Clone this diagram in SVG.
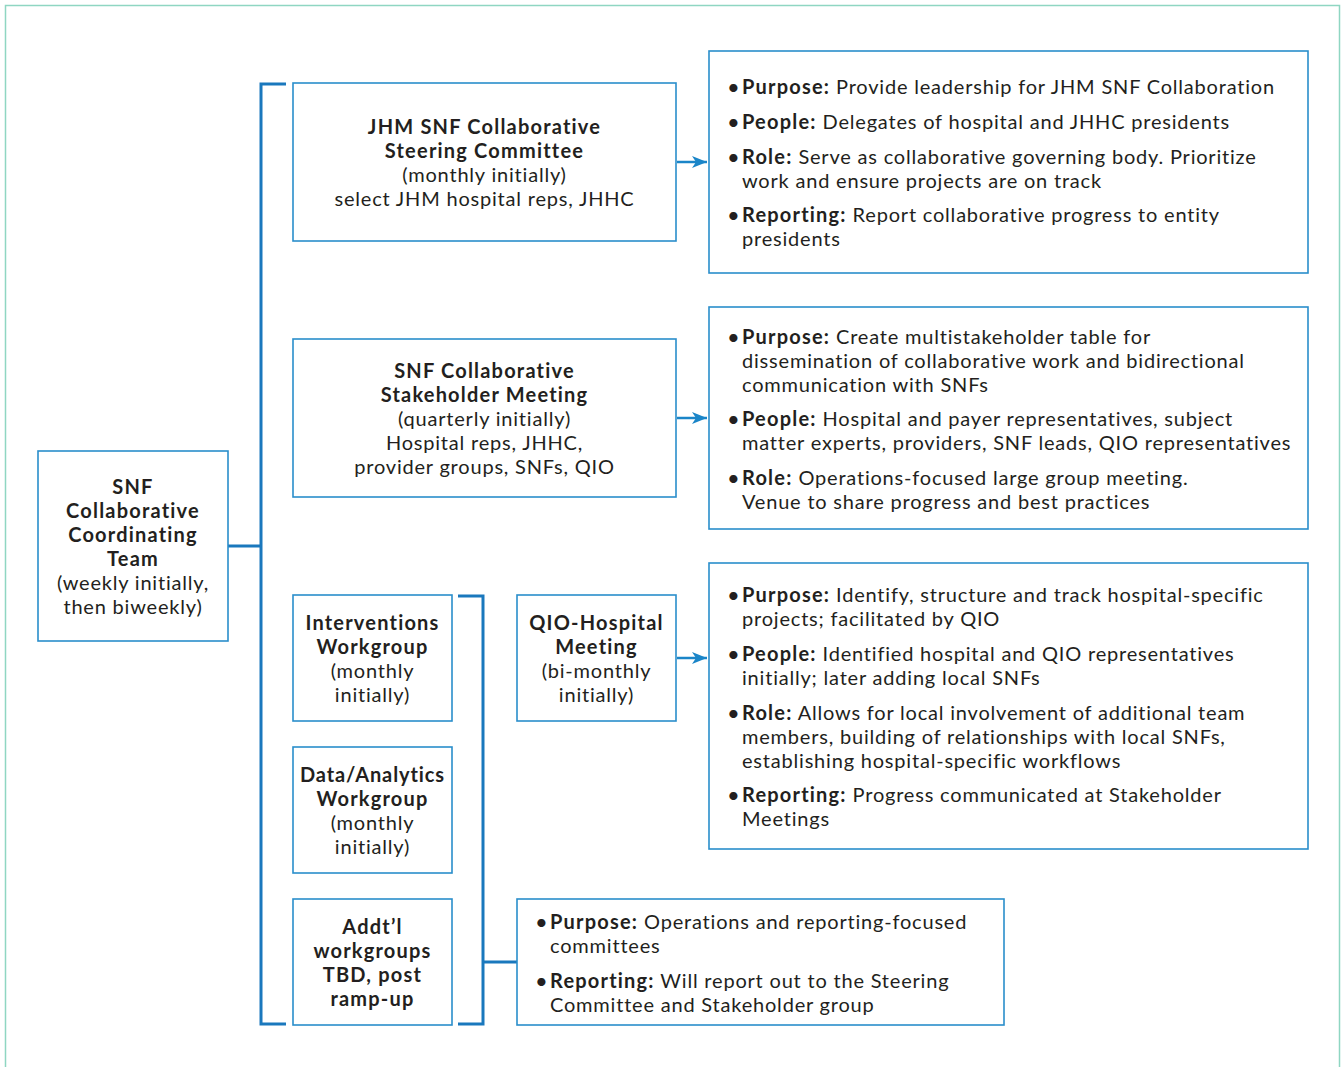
<svg xmlns="http://www.w3.org/2000/svg" width="1344" height="1067" viewBox="0 0 1344 1067">
<defs>
<marker id="ah" markerWidth="16" markerHeight="14" refX="15" refY="7" orient="auto" markerUnits="userSpaceOnUse">
<path d="M0,1 L15,7 L0,13 L4,7 Z" fill="#1a85c8"/>
</marker>
</defs>
<style>
.box{fill:#fff;stroke:#2a8ecb;stroke-width:1.6}
.br{fill:none;stroke:#1a78bd;stroke-width:3}
.ar{fill:none;stroke:#1a85c8;stroke-width:2.5}
text{font-family:Lato,"Liberation Sans",sans-serif;font-size:20px;fill:#231f20;letter-spacing:0.8px}
.c{text-anchor:middle}
.b{font-weight:bold;letter-spacing:1.2px}
.bu{font-size:22px}
</style>
<rect x="5.5" y="5.5" width="1334" height="1080" fill="none" stroke="#8fd6c2" stroke-width="1.5"/>
<g id="connectors">
<path class="br" d="M286,84 H261 V1024 H286"/>
<path class="br" d="M228,546 H261"/>
<path class="br" d="M458,596 H483 V1024 H458"/>
<path class="br" d="M483,962 H517"/>
<path class="ar" d="M677,162 H707" marker-end="url(#ah)"/>
<path class="ar" d="M677,418 H707" marker-end="url(#ah)"/>
<path class="ar" d="M677,658 H707" marker-end="url(#ah)"/>
</g>
<g id="coord">
<rect class="box" x="38" y="451" width="190" height="190"/>
<text class="c b" x="133" y="494">SNF</text>
<text class="c b" x="133" y="518">Collaborative</text>
<text class="c b" x="133" y="542">Coordinating</text>
<text class="c b" x="133" y="566">Team</text>
<text class="c" x="133" y="590">(weekly initially,</text>
<text class="c" x="133" y="614">then biweekly)</text>
</g>
<g id="steering">
<rect class="box" x="293" y="83" width="383" height="158"/>
<text class="c b" x="484.5" y="134">JHM SNF Collaborative</text>
<text class="c b" x="484.5" y="158">Steering Committee</text>
<text class="c" x="484.5" y="182">(monthly initially)</text>
<text class="c" x="484.5" y="206">select JHM hospital reps, JHHC</text>
</g>
<g id="stakeholder">
<rect class="box" x="293" y="339" width="383" height="158"/>
<text class="c b" x="484.5" y="378">SNF Collaborative</text>
<text class="c b" x="484.5" y="402">Stakeholder Meeting</text>
<text class="c" x="484.5" y="426">(quarterly initially)</text>
<text class="c" x="484.5" y="450">Hospital reps, JHHC,</text>
<text class="c" x="484.5" y="474">provider groups, SNFs, QIO</text>
</g>
<g id="interventions">
<rect class="box" x="293" y="595" width="159" height="126"/>
<text class="c b" x="372.5" y="630">Interventions</text>
<text class="c b" x="372.5" y="654">Workgroup</text>
<text class="c" x="372.5" y="678">(monthly</text>
<text class="c" x="372.5" y="702">initially)</text>
</g>
<g id="data">
<rect class="box" x="293" y="747" width="159" height="126"/>
<text class="c b" x="372.5" y="782" style="letter-spacing:0.9px">Data/Analytics</text>
<text class="c b" x="372.5" y="806">Workgroup</text>
<text class="c" x="372.5" y="830">(monthly</text>
<text class="c" x="372.5" y="854">initially)</text>
</g>
<g id="addtl">
<rect class="box" x="293" y="899" width="159" height="126"/>
<text class="c b" x="372.5" y="934">Addt’l</text>
<text class="c b" x="372.5" y="958">workgroups</text>
<text class="c b" x="372.5" y="982">TBD, post</text>
<text class="c b" x="372.5" y="1006">ramp-up</text>
</g>
<g id="qio">
<rect class="box" x="517" y="595" width="159" height="126"/>
<text class="c b" x="596.5" y="630">QIO-Hospital</text>
<text class="c b" x="596.5" y="654">Meeting</text>
<text class="c" x="596.5" y="678">(bi-monthly</text>
<text class="c" x="596.5" y="702">initially)</text>
</g>
<g id="detail-steering">
<rect class="box" x="709" y="51" width="599" height="222"/>
<text class="bu" x="727" y="95">•</text><text x="742" y="94"><tspan class="b">Purpose:</tspan> Provide leadership for JHM SNF Collaboration</text>
<text class="bu" x="727" y="130">•</text><text x="742" y="129"><tspan class="b">People:</tspan> Delegates of hospital and JHHC presidents</text>
<text class="bu" x="727" y="165">•</text><text x="742" y="164"><tspan class="b">Role:</tspan> Serve as collaborative governing body. Prioritize</text>
<text x="742" y="188">work and ensure projects are on track</text>
<text class="bu" x="727" y="223">•</text><text x="742" y="222"><tspan class="b">Reporting:</tspan> Report collaborative progress to entity</text>
<text x="742" y="246">presidents</text>
</g>
<g id="detail-stakeholder">
<rect class="box" x="709" y="307" width="599" height="222"/>
<text class="bu" x="727" y="345">•</text><text x="742" y="344"><tspan class="b">Purpose:</tspan> Create multistakeholder table for</text>
<text x="742" y="368">dissemination of collaborative work and bidirectional</text>
<text x="742" y="392">communication with SNFs</text>
<text class="bu" x="727" y="427">•</text><text x="742" y="426"><tspan class="b">People:</tspan> Hospital and payer representatives, subject</text>
<text x="742" y="450">matter experts, providers, SNF leads, QIO representatives</text>
<text class="bu" x="727" y="486">•</text><text x="742" y="485"><tspan class="b">Role:</tspan> Operations-focused large group meeting.</text>
<text x="742" y="509">Venue to share progress and best practices</text>
</g>
<g id="detail-qio">
<rect class="box" x="709" y="563" width="599" height="286"/>
<text class="bu" x="727" y="603">•</text><text x="742" y="602"><tspan class="b">Purpose:</tspan> Identify, structure and track hospital-specific</text>
<text x="742" y="626">projects; facilitated by QIO</text>
<text class="bu" x="727" y="662">•</text><text x="742" y="661"><tspan class="b">People:</tspan> Identified hospital and QIO representatives</text>
<text x="742" y="685">initially; later adding local SNFs</text>
<text class="bu" x="727" y="721">•</text><text x="742" y="720"><tspan class="b">Role:</tspan> Allows for local involvement of additional team</text>
<text x="742" y="744">members, building of relationships with local SNFs,</text>
<text x="742" y="768">establishing hospital-specific workflows</text>
<text class="bu" x="727" y="803">•</text><text x="742" y="802"><tspan class="b">Reporting:</tspan> Progress communicated at Stakeholder</text>
<text x="742" y="826">Meetings</text>
</g>
<g id="detail-workgroups">
<rect class="box" x="517" y="899" width="487" height="126"/>
<text class="bu" x="535" y="930">•</text><text x="550" y="929"><tspan class="b">Purpose:</tspan> Operations and reporting-focused</text>
<text x="550" y="953">committees</text>
<text class="bu" x="535" y="989">•</text><text x="550" y="988"><tspan class="b">Reporting:</tspan> Will report out to the Steering</text>
<text x="550" y="1012">Committee and Stakeholder group</text>
</g>
</svg>
